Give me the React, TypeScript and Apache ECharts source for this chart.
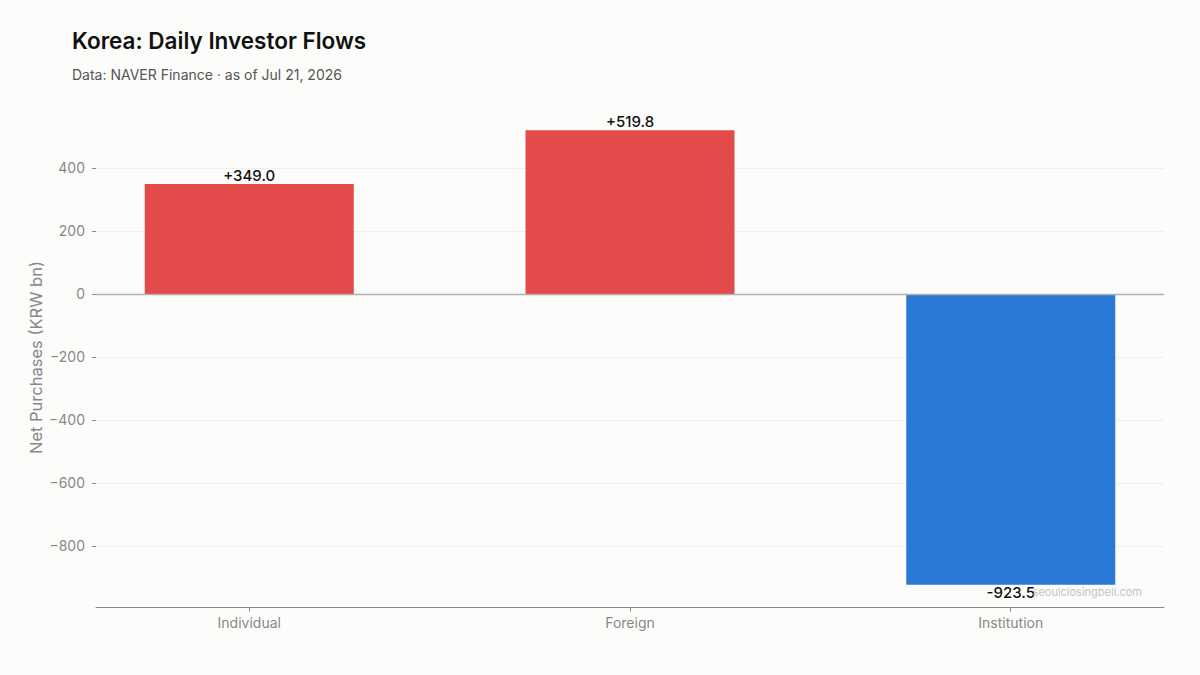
import React, { useEffect, useRef } from "react";
import * as echarts from "echarts";

const categories = ["Individual", "Foreign", "Institution"];
const flows = [349.0, 519.8, -923.5];
const yTicks = [-800, -600, -400, -200, 0, 200, 400];
const titleText = "Korea: Daily Investor Flows";
const subtitleText = "Data: NAVER Finance · as of Jul 21, 2026";
const yAxisName = "Net Purchases (KRW bn)";
const watermark = "seoulclosingbell.com";

const RED = "#e34a4a";
const BLUE = "#2a79d6";
const FONT = "Inter, 'Noto Sans', sans-serif";

export default function App() {
  const ref = useRef<HTMLDivElement>(null);
  useEffect(() => {
    if (!ref.current) return;
    const chart = echarts.init(ref.current, undefined, { renderer: "svg" });
    const dMin = Math.min(...flows, 0);
    const dMax = Math.max(...flows, 0);
    const pad = (dMax - dMin) * 0.05;
    const xPad = (categories.length - 1 + 0.55) * 0.05 + 0.275;
    chart.setOption({
      animation: false,
      backgroundColor: "#fcfcfa",
      textStyle: { fontFamily: FONT },
      title: [
        {
          text: titleText,
          left: 67,
          top: 23.5,
          textStyle: { fontSize: 22.5, fontWeight: 600, color: "#111", fontFamily: FONT },
        },
        {
          text: subtitleText,
          left: 67,
          top: 62,
          textStyle: { fontSize: 14, fontWeight: 400, color: "#555", fontFamily: FONT },
        },
      ],
      grid: { left: 96, right: 36, top: 107.5, bottom: 67.4, containLabel: false },
      xAxis: {
        type: "value",
        min: -xPad,
        max: categories.length - 1 + xPad,
        axisLine: { show: true, onZero: false, lineStyle: { color: "#888", width: 1 } },
        axisTick: { show: true, customValues: categories.map((_, i) => i), length: 4, lineStyle: { color: "#888" } },
        axisLabel: {
          customValues: categories.map((_, i) => i),
          formatter: (v: number) => categories[Math.round(v)] ?? "",
          color: "#888",
          fontSize: 14,
          margin: 8,
          fontFamily: FONT,
        },
        splitLine: { show: false },
      },
      yAxis: {
        type: "value",
        min: dMin - pad,
        max: dMax + pad,
        name: yAxisName,
        nameLocation: "middle",
        nameGap: 52,
        nameMoveOverlap: false,
        nameTextStyle: { color: "#888", fontSize: 16.5, fontFamily: FONT },
        axisLine: { show: false, onZero: false },
        axisTick: { show: true, customValues: yTicks, length: 4, lineStyle: { color: "#888" } },
        axisLabel: {
          customValues: yTicks,
          formatter: (v: number) => (v < 0 ? "\u2212" + Math.abs(v) : String(v)),
          color: "#888",
          fontSize: 14,
          margin: 11,
          fontFamily: FONT,
        },
        splitLine: { show: true, lineStyle: { color: "#f0f0ee", width: 1 } },
      },
      series: [
        {
          type: "bar",
          barWidth: 209,
          data: flows.map((v, i) => ({
            value: [i, v],
            itemStyle: { color: v >= 0 ? RED : BLUE },
            label: {
              show: true,
              position: v >= 0 ? "top" : "bottom",
              distance: v >= 0 ? 1 : 0,
              formatter: (v >= 0 ? "+" : "-") + Math.abs(v).toFixed(1),
              color: "#111",
              fontSize: 15,
              fontWeight: 500,
              fontFamily: FONT,
            },
          })),
          markLine: {
            silent: true,
            symbol: "none",
            label: { show: false },
            lineStyle: { color: "#b0b0b0", type: "solid", width: 1.3 },
            data: [{ yAxis: 0 }],
          },
        },
      ],
      graphic: [
        {
          type: "text",
          right: 58,
          top: 586,
          style: { text: watermark, fill: "#c4c4c4", fontSize: 11, fontFamily: FONT },
          z: 100,
        },
      ],
    });
    return () => chart.dispose();
  }, []);
  return <div ref={ref} style={{ width: 1200, height: 675, position: "absolute", left: 0, top: 0 }} />;
}
